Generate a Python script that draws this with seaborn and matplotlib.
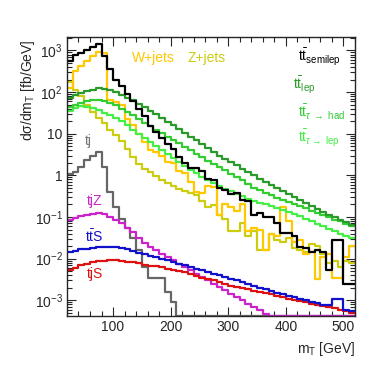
import numpy as np
import pandas as pd
import matplotlib
matplotlib.use("Agg")
import matplotlib.pyplot as plt
import seaborn as sns
from matplotlib.ticker import FixedLocator, FixedFormatter, MultipleLocator, LogLocator, NullFormatter

# m_T bins [GeV], 10 GeV wide, lower edges
bin_lo = list(range(20, 520, 10))

# d sigma / d m_T [fb/GeV] per bin
tt_semilep = [550, 760, 890, 1050, 1200, 1400, 720, 350, 200, 138,
              90, 60, 40, 26, 15, 11, 8.0, 5.6, 4.2, 2.8,
              2.0, 1.5, 1.5, 1.26, 0.80, 0.76, 0.50, 0.45, 0.35, 0.38,
              0.25, 0.24, 0.11, 0.126, 0.10, 0.10, 0.071, 0.041, 0.041, 0.035,
              0.019, 0.018, 0.0145, 0.016, 0.0145, 0.0052, 0.0275, 0.0275, 0.0025, 0.0025]
tt_lep = [74, 83, 95, 105, 115, 123, 120, 112, 100, 87,
          74, 63, 52, 44, 36, 30, 24, 19.5, 16, 13,
          10.5, 8.5, 6.9, 5.6, 4.6, 3.7, 3.0, 2.5, 2.1, 1.74,
          1.45, 1.2, 1.0, 0.83, 0.69, 0.58, 0.49, 0.42, 0.355, 0.30,
          0.257, 0.22, 0.186, 0.158, 0.135, 0.115, 0.10, 0.087, 0.076, 0.066]
tt_tau_had = [43, 50, 56, 62, 65, 65, 62, 55, 48, 40,
              33, 27.5, 23, 18.6, 15, 12.6, 10.2, 8.5, 7.1, 5.9,
              4.9, 4.0, 3.3, 2.7, 2.24, 1.86, 1.55, 1.32, 1.10, 0.91,
              0.76, 0.62, 0.51, 0.44, 0.38, 0.33, 0.29, 0.26, 0.23, 0.204,
              0.182, 0.162, 0.141, 0.126, 0.112, 0.10, 0.087, 0.079, 0.069, 0.060]
tt_tau_lep = [35, 42, 46, 45, 42, 37, 32, 28, 24, 20,
              15.8, 12.6, 10, 7.9, 6.3, 5.0, 4.0, 3.2, 2.6, 2.1,
              1.70, 1.38, 1.12, 0.93, 0.78, 0.65, 0.55, 0.48, 0.42, 0.36,
              0.32, 0.275, 0.245, 0.22, 0.20, 0.182, 0.166, 0.148, 0.132, 0.120,
              0.105, 0.091, 0.079, 0.069, 0.060, 0.052, 0.046, 0.040, 0.035, 0.032]
w_jets = [126, 316, 417, 550, 724, 933, 891, 63, 57.5, 50,
          22.4, 16.6, 10, 6.3, 4.0, 3.55, 2.95, 2.04, 1.95, 1.26,
          1.12, 0.71, 0.40, 0.38, 0.56, 0.52, 0.112, 0.20, 0.178, 0.141,
          0.20, 0.045, 0.056, 0.050, 0.0158, 0.040, 0.0355, 0.178, 0.079, 0.025,
          0.028, 0.0126, 0.0141, 0.0032, 0.0112, 0.0126, 0.0035, 0.0035, 0.0112, 0.020]
z_jets = [178, 115, 79, 48, 33, 24, 17.8, 12.6, 9.3, 6.6,
          4.2, 2.8, 1.9, 1.41, 1.20, 0.95, 0.79, 0.66, 0.55, 0.47,
          0.42, 0.37, 0.33, 0.24, 0.178, 0.19, 0.112, 0.089, 0.045, 0.045,
          0.071, 0.035, 0.045, 0.0158, 0.0158, 0.040, 0.028, 0.025, 0.032, 0.0178,
          0.0158, 0.0141, 0.0224, 0.020, 0.0126, 0.0079, 0.0089, 0.0063, 0.0089, 0.0079]
tj = [1.1, 1.2, 1.6, 2.3, 3.0, 3.6, 1.55, 0.40, 0.17, 0.089,
      0.056, 0.032, 0.016, 0.0063, 0.0035, 0.0035, 0.0034, 0.0016, 0.0009, 0,
      0, 0, 0, 0, 0, 0, 0, 0, 0, 0,
      0, 0, 0, 0, 0, 0, 0, 0, 0, 0,
      0, 0, 0, 0, 0, 0, 0, 0, 0, 0]
tjz = [0.083, 0.093, 0.105, 0.112, 0.120, 0.123, 0.117, 0.100, 0.083, 0.071,
       0.056, 0.043, 0.032, 0.024, 0.019, 0.0158, 0.0132, 0.011, 0.0091, 0.0076,
       0.0063, 0.0052, 0.0044, 0.0036, 0.0030, 0.0025, 0.0021, 0.00174, 0.00145, 0.0012,
       0.0010, 0.00083, 0.00069, 0.00058, 0.00048, 0, 0, 0, 0, 0,
       0, 0, 0, 0, 0, 0, 0, 0, 0, 0]
tts = [0.0145, 0.0155, 0.0166, 0.0174, 0.0182, 0.0186, 0.019, 0.019, 0.0186, 0.0178,
       0.0166, 0.0151, 0.0138, 0.0126, 0.0115, 0.0107, 0.010, 0.0091, 0.0083, 0.0076,
       0.0069, 0.0063, 0.0058, 0.0052, 0.0048, 0.0044, 0.0040, 0.0036, 0.0033, 0.0030,
       0.0027, 0.0024, 0.0022, 0.0020, 0.00182, 0.00166, 0.00151, 0.00138, 0.00129, 0.0012,
       0.0011, 0.0010, 0.00091, 0.00085, 0.00079, 0.00076, 0.00105, 0.00105, 0.00058, 0.00055]
tjs = [0.0052, 0.006, 0.0069, 0.0076, 0.0081, 0.0087, 0.0089, 0.0091, 0.0091, 0.0089,
       0.0085, 0.0081, 0.0078, 0.0072, 0.0068, 0.0065, 0.0062, 0.0058, 0.0054, 0.0050,
       0.0047, 0.0043, 0.0039, 0.0035, 0.0032, 0.0030, 0.0027, 0.0025, 0.0022, 0.0021,
       0.00195, 0.00182, 0.0017, 0.00158, 0.00148, 0.00138, 0.00129, 0.0012, 0.0011, 0.00102,
       0.00095, 0.00089, 0.00083, 0.00078, 0.00074, 0.00069, 0.00065, 0.0006, 0.00055, 0.0005]

y_ticks = [1e-3, 1e-2, 1e-1, 1, 10, 1e2, 1e3]
y_tick_labels = ['$10^{-3}$', '$10^{-2}$', '$10^{-1}$', '1', '10', '$10^{2}$', '$10^{3}$']
x_ticks = [100, 200, 300, 400, 500]


def main():
    sns.set_style("ticks")
    plt.rcParams['font.family'] = ['Liberation Sans', 'DejaVu Sans']
    plt.rcParams['mathtext.fontset'] = 'custom'
    plt.rcParams['mathtext.rm'] = 'Liberation Sans'
    plt.rcParams['mathtext.it'] = 'Liberation Sans:italic'
    plt.rcParams['mathtext.bf'] = 'Liberation Sans:bold'

    edges = [float(e) for e in bin_lo] + [bin_lo[-1] + 10.0]
    centers = [b + 5.0 for b in bin_lo]
    ymin, ymax = 4.2e-4, 2.1e3

    fig = plt.figure(figsize=(3.74, 3.67), dpi=100)
    ax = fig.add_axes([0.179, 0.139, 0.770, 0.760])

    # empty bins are drawn along the bottom of the frame, ROOT style
    samples = [(z_jets, '#cccc11'), (w_jets, '#ffc800'), (tj, '#666666'),
               (tjz, '#cc22cc'), (tjs, '#dd1111'), (tts, '#1111cc'),
               (tt_tau_lep, '#44ee44'), (tt_tau_had, '#33cc33'),
               (tt_lep, '#2a9a2a'), (tt_semilep, '#000000')]
    for vals, col in samples:
        df = pd.DataFrame({'mT': centers, 'xsec': np.clip(vals, ymin, None)})
        sns.histplot(data=df, x='mT', weights='xsec', bins=edges,
                     element='step', fill=False, color=col, linewidth=1.6, ax=ax)

    ax.set_yscale('log')
    ax.set_xlim(20, 520)
    ax.set_ylim(ymin, ymax)

    ax.xaxis.set_major_locator(FixedLocator(x_ticks))
    ax.xaxis.set_minor_locator(MultipleLocator(20))
    ax.yaxis.set_major_locator(FixedLocator(y_ticks))
    ax.yaxis.set_major_formatter(FixedFormatter(y_tick_labels))
    ax.yaxis.set_minor_locator(LogLocator(base=10, subs=np.arange(2, 10)))
    ax.yaxis.set_minor_formatter(NullFormatter())
    ax.tick_params(which='both', direction='in', top=True, right=True,
                   labelsize=10, width=0.8, pad=3)
    ax.tick_params(which='major', length=6.5)
    ax.tick_params(which='minor', length=3.5)
    for sp in ax.spines.values():
        sp.set_linewidth(1.0)

    ax.set_xlabel(r'm$_\mathregular{T}$ [GeV]', fontsize=10, loc='right', labelpad=4)
    ax.set_ylabel(r'd$\mathregular{\sigma}$/dm$_\mathregular{T}$ [fb/GeV]',
                  fontsize=10, loc='top')
    ax.yaxis.set_label_coords(-0.104, 0.99)

    tr = ax.transAxes
    ax.text(0.226, 0.911, 'W+jets', color='#ffc800', fontsize=10, transform=tr)
    ax.text(0.417, 0.911, 'Z+jets', color='#cccc11', fontsize=10, transform=tr)
    ax.text(0.802, 0.911, r'$\mathregular{t\bar{t}_{semilep}}$', color='black',
            fontsize=10, transform=tr)
    ax.text(0.785, 0.810, r'$\mathregular{t\bar{t}_{lep}}$', color='#2a9a2a',
            fontsize=10, transform=tr)
    ax.text(0.802, 0.713, r'$\mathregular{t\bar{t}}_{\tau\ \rightarrow\ \mathregular{had}}$',
            color='#33cc33', fontsize=10, transform=tr)
    ax.text(0.802, 0.620, r'$\mathregular{t\bar{t}}_{\tau\rightarrow\ \mathregular{lep}}$',
            color='#44ee44', fontsize=10, transform=tr)
    ax.text(0.0625, 0.613, 'tj', color='#777777', fontsize=10, transform=tr)
    ax.text(0.069, 0.398, 'tjZ', color='#cc22cc', fontsize=10, transform=tr)
    ax.text(0.0625, 0.266, r'$\mathregular{t\bar{t}S}$', color='#1111cc', fontsize=10, transform=tr)
    ax.text(0.069, 0.136, 'tjS', color='#dd1111', fontsize=10, transform=tr)

    fig.savefig('out.png', dpi=100, facecolor='white')


main()
